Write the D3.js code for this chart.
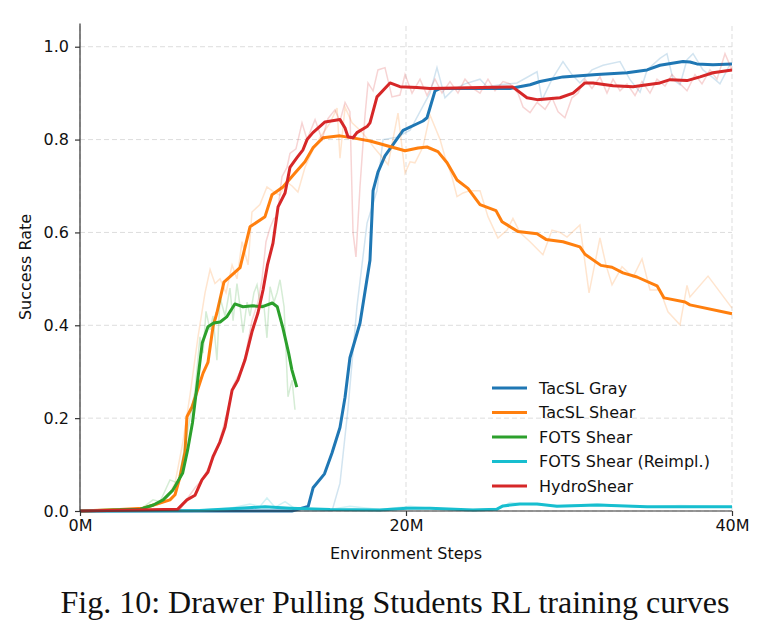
<!DOCTYPE html>
<html>
<head>
<meta charset="utf-8">
<script src="https://cdn.jsdelivr.net/npm/d3@7"></script>
<style>
  body { margin: 0; background: #fff; }
  text { font-family: "DejaVu Sans", sans-serif; fill: #111; }
  .caption { font-family: "Liberation Serif", "Times New Roman", serif; }
</style>
</head>
<body>
<div id="viz"></div>
<script>
// steps in millions, success rate
var names = ["TacSL Gray", "TacSL Shear", "FOTS Shear", "FOTS Shear (Reimpl.)", "HydroShear"];
var colors = ["#1f77b4", "#ff7f0e", "#2ca02c", "#17becf", "#d62728"];
var xTicks = [0, 20, 40];
var yTicks = [0, 0.2, 0.4, 0.6, 0.8, 1.0];

// smoothed curves
var graySmooth = [[0,0],[13.0,0],[14.0,0.01],[14.3,0.05],[15.0,0.08],[15.46,0.125],[15.95,0.18],[16.26,0.245],[16.56,0.33],[17.18,0.405],[17.79,0.54],[17.98,0.69],[18.28,0.73],[18.71,0.765],[19.82,0.82],[21.04,0.84],[21.29,0.847],[21.78,0.905],[22.09,0.91],[26.38,0.91],[27.61,0.918],[28.22,0.925],[29.63,0.935],[31.72,0.94],[33.56,0.944],[34.79,0.95],[35.58,0.96],[36.99,0.968],[37.42,0.967],[37.85,0.963],[38.83,0.961],[40,0.963]];
var shearSmooth = [[0,0],[2.45,0.003],[3.87,0.006],[4.72,0.015],[5.52,0.024],[5.83,0.035],[6.13,0.073],[6.44,0.127],[6.56,0.203],[6.87,0.224],[7.55,0.297],[7.85,0.32],[8.16,0.397],[8.4,0.427],[8.83,0.493],[9.82,0.524],[10.43,0.612],[11.35,0.634],[11.78,0.681],[12.45,0.698],[13.19,0.728],[13.8,0.752],[14.29,0.782],[14.91,0.804],[15.95,0.808],[16.99,0.802],[17.79,0.797],[18.4,0.791],[19.94,0.776],[20.74,0.782],[21.29,0.784],[21.96,0.774],[22.52,0.75],[23.13,0.713],[23.8,0.695],[24.54,0.66],[25.52,0.647],[25.89,0.623],[26.87,0.602],[28.04,0.597],[28.59,0.585],[29.63,0.58],[30.67,0.569],[30.98,0.553],[31.96,0.529],[32.64,0.525],[33.31,0.513],[34.17,0.504],[35.4,0.485],[35.83,0.459],[37.12,0.45],[37.42,0.444],[40,0.425]];
var fotsSmooth = [[0,0],[3.7,0.004],[4.5,0.013],[5.1,0.024],[5.7,0.045],[6.3,0.082],[6.6,0.131],[6.9,0.19],[7.2,0.276],[7.5,0.362],[7.85,0.397],[8.2,0.405],[8.6,0.407],[9.0,0.418],[9.5,0.446],[10.0,0.44],[10.6,0.442],[11.2,0.44],[11.8,0.448],[12.1,0.44],[12.45,0.394],[12.8,0.34],[13.0,0.304],[13.3,0.267]];
var reimplSmooth = [[0,0],[7.36,0.001],[9.82,0.006],[11.35,0.009],[12.88,0.006],[15.34,0.003],[18.4,0.002],[20.06,0.006],[21.47,0.006],[24.11,0.002],[25.58,0.004],[25.95,0.011],[26.99,0.015],[28.04,0.015],[29.26,0.01],[31.72,0.013],[34.79,0.009],[40,0.009]];
var hydroSmooth = [[0,0],[6.0,0.004],[6.56,0.024],[7.06,0.034],[7.48,0.067],[7.85,0.084],[8.16,0.117],[8.59,0.149],[8.9,0.181],[9.33,0.26],[9.69,0.282],[10.12,0.325],[10.55,0.386],[10.92,0.427],[11.23,0.476],[11.5,0.53],[11.84,0.577],[12.15,0.655],[12.58,0.685],[12.88,0.74],[13.31,0.761],[13.68,0.778],[13.93,0.8],[14.29,0.815],[15.03,0.838],[15.95,0.843],[16.26,0.825],[16.44,0.806],[16.75,0.804],[16.99,0.815],[17.61,0.828],[17.79,0.836],[18.22,0.892],[19.02,0.922],[19.63,0.914],[20.67,0.912],[21.47,0.91],[26.2,0.913],[26.56,0.913],[27.42,0.89],[28.04,0.886],[29.45,0.89],[30.25,0.9],[30.98,0.922],[31.47,0.922],[32.7,0.916],[33.93,0.914],[34.79,0.918],[35.58,0.922],[36.2,0.929],[37.24,0.927],[38.04,0.935],[38.83,0.944],[40,0.95]];

// raw curves
var grayRaw = [[0,0],[15.46,0],[15.95,0.06],[16.44,0.22],[16.99,0.44],[17.61,0.62],[18.22,0.69],[18.59,0.8],[19.45,0.805],[20.25,0.82],[20.86,0.86],[21.47,0.9],[21.9,0.955],[22.39,0.89],[22.88,0.907],[23.62,0.92],[24.54,0.93],[24.97,0.914],[25.77,0.918],[26.81,0.922],[28.04,0.946],[28.34,0.885],[28.96,0.93],[29.63,0.968],[30.18,0.94],[30.67,0.922],[31.41,0.95],[32.09,0.96],[33.13,0.968],[33.74,0.929],[34.36,0.902],[34.79,0.95],[35.58,0.975],[36.01,0.985],[36.38,0.93],[36.81,0.918],[37.24,0.972],[37.61,0.985],[38.22,0.95],[38.77,0.935],[39.26,0.92],[39.88,0.962]];
var shearRaw = [[0,0],[3.07,0.003],[4.29,0.01],[5.21,0.02],[5.83,0.06],[6.32,0.15],[6.75,0.25],[7.24,0.375],[7.67,0.47],[7.98,0.52],[8.28,0.49],[8.59,0.5],[8.96,0.47],[9.33,0.53],[9.63,0.5],[9.94,0.58],[10.31,0.53],[10.55,0.644],[11.04,0.66],[11.47,0.698],[11.78,0.69],[12.27,0.68],[12.64,0.71],[13.01,0.7],[13.37,0.687],[13.8,0.74],[14.29,0.778],[14.72,0.804],[15.34,0.836],[15.77,0.868],[15.95,0.76],[16.26,0.87],[16.69,0.836],[17.18,0.82],[17.67,0.8],[18.1,0.78],[18.59,0.76],[18.9,0.746],[19.51,0.857],[19.94,0.728],[20.25,0.752],[20.55,0.75],[21.04,0.784],[21.47,0.853],[22.09,0.8],[22.39,0.763],[22.82,0.72],[23.13,0.677],[23.5,0.685],[23.93,0.69],[24.54,0.69],[25.03,0.634],[25.64,0.588],[26.2,0.605],[26.56,0.63],[26.99,0.6],[27.61,0.58],[28.4,0.552],[28.96,0.605],[29.45,0.6],[29.88,0.59],[30.67,0.616],[31.23,0.47],[31.9,0.588],[32.27,0.53],[32.64,0.487],[33.25,0.526],[33.93,0.504],[34.48,0.543],[34.97,0.476],[35.58,0.476],[36.07,0.429],[36.81,0.401],[37.24,0.486],[37.42,0.461],[38.53,0.506],[40,0.437]];
var fotsRaw = [[0,0],[3.68,0.003],[4.48,0.024],[4.91,0.02],[5.52,0.067],[6.01,0.06],[6.44,0.14],[6.75,0.2],[7.06,0.26],[7.36,0.375],[7.55,0.34],[7.73,0.43],[7.98,0.39],[8.16,0.42],[8.4,0.325],[8.59,0.46],[8.9,0.42],[9.2,0.48],[9.39,0.41],[9.63,0.49],[9.82,0.44],[10.0,0.384],[10.25,0.45],[10.43,0.42],[10.67,0.47],[10.86,0.487],[11.04,0.45],[11.29,0.44],[11.47,0.373],[11.66,0.483],[11.9,0.45],[12.09,0.47],[12.27,0.498],[12.52,0.44],[12.76,0.246],[13.01,0.282],[13.19,0.218]];
var reimplRaw = [[0,0],[7.36,0.002],[9.2,0.006],[10.43,0.015],[11.04,0.01],[11.47,0.028],[11.96,0.008],[12.58,0.02],[13.19,0.005],[15.34,0.003],[16.56,0.01],[18.4,0.003],[20.25,0.01],[22.09,0.004],[23.93,0.003],[25.77,0.006],[26.38,0.018],[27.61,0.014],[29.45,0.012],[31.9,0.015],[34.36,0.008],[36.81,0.012],[40,0.009]];
var hydroRaw = [[0,0],[6.13,0.002],[6.44,0.02],[7.06,0.05],[7.55,0.07],[7.98,0.1],[8.28,0.12],[8.71,0.17],[9.08,0.22],[9.39,0.27],[9.82,0.3],[10.12,0.33],[10.55,0.41],[10.92,0.45],[11.17,0.5],[11.41,0.58],[11.66,0.61],[11.9,0.63],[12.09,0.634],[12.39,0.72],[12.7,0.74],[12.88,0.77],[13.25,0.78],[13.62,0.836],[13.93,0.8],[14.42,0.843],[14.85,0.8],[15.21,0.845],[15.64,0.864],[15.95,0.84],[16.26,0.88],[16.56,0.86],[16.75,0.6],[16.93,0.547],[17.18,0.7],[17.48,0.85],[17.67,0.922],[17.98,0.905],[18.28,0.95],[18.71,0.955],[19.14,0.892],[19.63,0.896],[19.94,0.94],[20.37,0.9],[20.86,0.93],[21.29,0.895],[21.78,0.93],[22.21,0.9],[22.7,0.925],[23.19,0.9],[23.62,0.93],[24.11,0.91],[24.54,0.9],[25.03,0.93],[25.46,0.905],[25.95,0.925],[26.38,0.92],[26.87,0.9],[27.18,0.87],[27.61,0.858],[28.04,0.88],[28.53,0.865],[28.96,0.89],[29.33,0.86],[29.75,0.847],[30.18,0.89],[30.55,0.9],[30.98,0.93],[31.41,0.91],[31.9,0.935],[32.33,0.9],[32.7,0.93],[33.13,0.905],[33.56,0.92],[34.05,0.895],[34.48,0.925],[34.97,0.9],[35.4,0.93],[35.89,0.915],[36.32,0.94],[36.81,0.92],[37.24,0.905],[37.73,0.94],[38.16,0.92],[38.65,0.95],[39.08,0.93],[39.57,0.985],[40,0.95]];

var smooth = [graySmooth, shearSmooth, fotsSmooth, reimplSmooth, hydroSmooth];
var raw = [grayRaw, shearRaw, fotsRaw, reimplRaw, hydroRaw];

var svg = d3.select("#viz")
    .append("svg")
    .attr("width", 761)
    .attr("height", 639);

var x = d3.scaleLinear().domain([0, 40]).range([80, 732]);
var y = d3.scaleLinear().domain([0, 1.05]).range([511, 23.5]);

// grid
svg.append("g").selectAll("line")
    .data(yTicks)
    .enter().append("line")
    .attr("x1", 80).attr("x2", 732)
    .attr("y1", function(d){ return y(d); })
    .attr("y2", function(d){ return y(d); })
    .attr("stroke", "#ddd").attr("stroke-width", 1)
    .attr("stroke-dasharray", "5,3");
svg.append("g").selectAll("line")
    .data(xTicks)
    .enter().append("line")
    .attr("x1", function(d){ return x(d); })
    .attr("x2", function(d){ return x(d); })
    .attr("y1", 511).attr("y2", 23.5)
    .attr("stroke", "#ddd").attr("stroke-width", 1)
    .attr("stroke-dasharray", "5,3");

var line = d3.line()
    .x(function(d){ return x(d[0]); })
    .y(function(d){ return y(d[1]); });

// raw first, then smoothed on top
names.forEach(function(n, i){
    svg.append("path")
        .attr("d", line(raw[i]))
        .attr("fill", "none")
        .attr("stroke", colors[i])
        .attr("stroke-opacity", 0.2)
        .attr("stroke-width", 1.5);
    svg.append("path")
        .attr("d", line(smooth[i]))
        .attr("fill", "none")
        .attr("stroke", colors[i])
        .attr("stroke-width", 3)
        .attr("stroke-linejoin", "round");
});

// axes
var xAxis = svg.append("g")
    .attr("transform", "translate(0,511)")
    .call(d3.axisBottom(x).tickValues(xTicks).tickSize(5).tickPadding(4)
        .tickFormat(function(d){ return d + "M"; }));
var yAxis = svg.append("g")
    .attr("transform", "translate(80,0)")
    .call(d3.axisLeft(y).tickValues(yTicks).tickSize(5).tickPadding(6)
        .tickFormat(d3.format(".1f")));
[xAxis, yAxis].forEach(function(a){
    a.select(".domain").attr("stroke", "#333").attr("stroke-width", 1.2);
    a.selectAll(".tick line").attr("stroke", "#333").attr("stroke-width", 1.2);
    a.selectAll(".tick text").style("font-size", "16px").style("font-family", "DejaVu Sans").attr("fill", "#111");
});
xAxis.select(".domain").attr("d", "M80,0H732");
yAxis.select(".domain").attr("d", "M0,511V23.5");

svg.append("text")
    .attr("x", 406).attr("y", 559)
    .attr("text-anchor", "middle")
    .style("font-size", "16px")
    .text("Environment Steps");
svg.append("text")
    .attr("transform", "translate(31,267) rotate(-90)")
    .attr("text-anchor", "middle")
    .style("font-size", "16px")
    .text("Success Rate");

// legend
var lg = svg.append("g").selectAll("g")
    .data(names)
    .enter().append("g")
    .attr("transform", function(d, i){ return "translate(492," + (388 + i * 24.5) + ")"; });
lg.append("line")
    .attr("x2", 35)
    .attr("stroke", function(d, i){ return colors[i]; })
    .attr("stroke-width", 3);
lg.append("text")
    .attr("x", 47).attr("dy", "0.35em")
    .style("font-size", "16px")
    .text(function(d){ return d; });

svg.append("text")
    .attr("class", "caption")
    .attr("x", 395).attr("y", 613)
    .attr("text-anchor", "middle")
    .style("font-size", "32px")
    .text("Fig. 10: Drawer Pulling Students RL training curves");
</script>
</body>
</html>
